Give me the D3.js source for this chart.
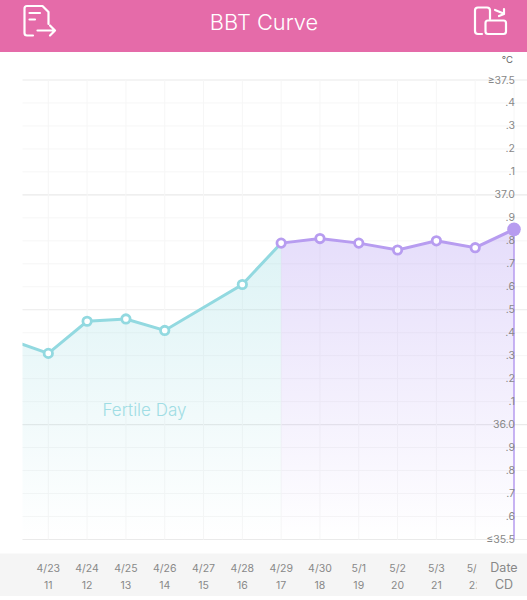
<!DOCTYPE html>
<html><head><meta charset="utf-8">
<style>html,body{margin:0;padding:0;background:#fff;overflow:hidden}svg{display:block}text{font-family:"Inter","Noto Sans",sans-serif}</style>
<script src="https://cdn.jsdelivr.net/npm/d3@7"></script></head><body>
<script>
const chartTitle = "BBT Curve";
const dates = ["4/23","4/24","4/25","4/26","4/27","4/28","4/29","4/30","5/1","5/2","5/3","5/4"];
const cycleDays = ["11","12","13","14","15","16","17","18","19","20","21","22"];
const yTickValues = [37.5,37.4,37.3,37.2,37.1,37.0,36.9,36.8,36.7,36.6,36.5,36.4,36.3,36.2,36.1,36.0,35.9,35.8,35.7,35.6,35.5];
const yTickLabels = ["≥37.5",".4",".3",".2",".1","37.0",".9",".8",".7",".6",".5",".4",".3",".2",".1","36.0",".9",".8",".7",".6","≤35.5"];
const pointDays = [0,1,2,3,4,6,7,8,9,10,11,12,13];
const temps = [36.37,36.31,36.45,36.46,36.41,36.61,36.79,36.81,36.79,36.76,36.80,36.77,36.85];
const follicularCount = 7;

const W=527,H=600;
const svg=d3.select("body").append("svg").attr("width",W).attr("height",H);
const x=d3.scaleLinear().domain([1,13]).range([48.3,514]);
const y=d3.scaleLinear().domain([35.5,37.5]).range([539.5,80]);
const plotLeft=22.5,plotRight=527;

const defs=svg.append("defs");
function grad(id,c,o){const g=defs.append("linearGradient").attr("id",id).attr("x1",0).attr("x2",0).attr("y1",0).attr("y2",1);
 g.append("stop").attr("offset",0).attr("stop-color",c).attr("stop-opacity",o);
 g.append("stop").attr("offset",1).attr("stop-color",c).attr("stop-opacity",0.0);}
grad("gT","#8fd8df",0.3);grad("gP","#b198f2",0.33);
defs.append("clipPath").attr("id","cp").append("rect").attr("x",plotLeft).attr("y",60).attr("width",plotRight-plotLeft).attr("height",490);
defs.append("clipPath").attr("id","cb").append("rect").attr("x",0).attr("y",553).attr("width",476.5).attr("height",43);

svg.append("rect").attr("width",W).attr("height",52).attr("fill","#e56ba9");
svg.append("text").attr("x",264).attr("y",29.5).attr("text-anchor","middle").attr("font-size",21.8).attr("font-weight",300).attr("fill","#fff").text(chartTitle);

// header icons
const ic=svg.append("g").attr("fill","none").attr("stroke","#fff").attr("stroke-width",2.2).attr("stroke-linecap","round").attr("stroke-linejoin","round");
ic.append("path").attr("d","M48.5 24V12L42.5 6H27Q24.5 6 24.5 8.5V33Q24.5 35.5 27 35.5H33");
ic.append("path").attr("d","M29.5 13H40M29.5 19.5H35M37.5 30.5H54.5M50 25.5L55 30.5L50 35.5");
ic.append("path").attr("d","M490 19V10.5Q490 7.5 487 7.5H478Q475 7.5 475 10.5V31Q475 34 478 34H482");
ic.append("rect").attr("x",485.5).attr("y",20.5).attr("width",20.5).attr("height",13.5).attr("rx",2.5);
ic.append("path").attr("d","M495 10L503.5 13.5M504 9L504 14L499 16");

// grid
const isMajor=d=>Math.abs(d*2-Math.round(d*2))<1e-6;
const g=svg.append("g");
g.selectAll("line.h").data(yTickValues).join("line").attr("class","h").attr("x1",plotLeft).attr("x2",plotRight)
 .attr("y1",d=>y(d)).attr("y2",d=>y(d))
 .attr("stroke",d=>isMajor(d)?"#eaeaea":"#f6f6f6").attr("stroke-width",d=>isMajor(d)?1.2:1);
const gridDays=d3.range(1,14);
g.selectAll("line.v").data(gridDays).join("line").attr("class","v").attr("x1",d=>x(d)).attr("x2",d=>x(d)).attr("y1",80).attr("y2",539.5).attr("stroke","#f6f6f6");

// area + line
const pts=pointDays.map((d,i)=>({x:x(d),y:y(temps[i]),i}));
const a=pts.slice(0,follicularCount), b=pts.slice(follicularCount-1);
const area=d3.area().x(d=>d.x).y0(y(35.5)).y1(d=>d.y);
const line=d3.line().x(d=>d.x).y(d=>d.y);
const plot=svg.append("g").attr("clip-path","url(#cp)");
plot.append("path").attr("d",area(a)).attr("fill","url(#gT)");
plot.append("path").attr("d",area(b)).attr("fill","url(#gP)");
plot.append("path").attr("d",line(a)).attr("fill","none").attr("stroke","#92d9e0").attr("stroke-width",3);
plot.append("path").attr("d",line(b)).attr("fill","none").attr("stroke","#b79cf0").attr("stroke-width",3);
const last=pts[pts.length-1];
plot.append("line").attr("x1",last.x).attr("x2",last.x).attr("y1",last.y).attr("y2",y(35.5)).attr("stroke","#b79cf0").attr("stroke-width",1.5);
plot.selectAll("circle.m").data(pts.slice(1,-1)).join("circle").attr("class","m").attr("cx",d=>d.x).attr("cy",d=>d.y).attr("r",4.2)
 .attr("fill","#fff").attr("stroke",d=>d.i<follicularCount-1?"#92d9e0":"#b79cf0").attr("stroke-width",2.8);
plot.append("circle").attr("cx",last.x).attr("cy",last.y).attr("r",6.8).attr("fill","#b79cf0");

svg.append("text").attr("x",144.5).attr("y",416).attr("text-anchor","middle").attr("font-size",17).attr("font-weight",300).attr("fill","#a0dde4").text("Fertile Day");

// y labels
svg.selectAll("text.yl").data(yTickValues).join("text").attr("class","yl").attr("x",515).attr("y",d=>y(d)+3.5).attr("text-anchor","end").attr("font-size",10.5).attr("fill","#888").text((d,i)=>yTickLabels[i]);
svg.append("text").attr("x",513).attr("y",63).attr("text-anchor","end").attr("font-size",9.5).attr("fill","#666").text("°C");

// bottom band
svg.append("rect").attr("y",553.5).attr("width",W).attr("height",42.5).attr("fill","#f5f5f5");
const bt=svg.append("g").attr("clip-path","url(#cb)");
bt.selectAll("text.d").data(dates).join("text").attr("class","d").attr("x",(d,i)=>x(i+1)).attr("y",571.5).attr("text-anchor","middle").attr("font-size",10.5).attr("fill","#888").text(d=>d);
bt.selectAll("text.c").data(cycleDays).join("text").attr("class","c").attr("x",(d,i)=>x(i+1)).attr("y",589).attr("text-anchor","middle").attr("font-size",10.5).attr("fill","#888").text(d=>d);
svg.append("text").attr("x",504).attr("y",572).attr("text-anchor","middle").attr("font-size",12.5).attr("fill","#888").text("Date");
svg.append("text").attr("x",504).attr("y",589).attr("text-anchor","middle").attr("font-size",12.5).attr("fill","#888").text("CD");
</script></body></html>
